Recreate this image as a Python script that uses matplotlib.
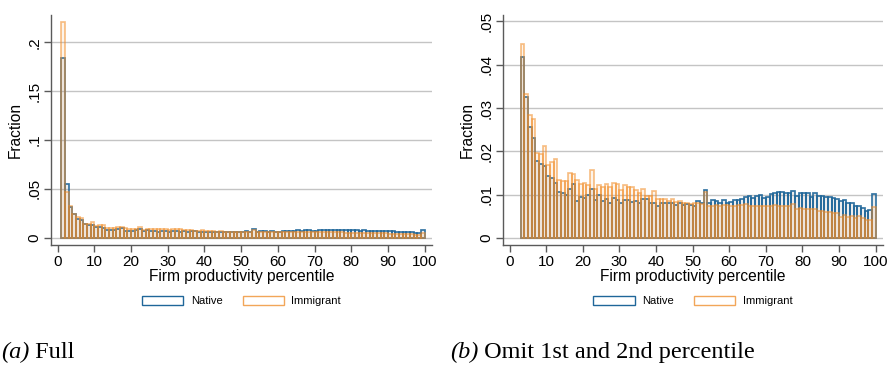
import numpy as np
import matplotlib
matplotlib.use("Agg")
import matplotlib.pyplot as plt
from matplotlib.patches import Patch

plt.rcParams["font.family"] = ["Liberation Sans", "DejaVu Sans"]

# Share of workers in each firm-productivity percentile bin (bin width 1, left edge given by *_start)
full_start = 1
native_full = [
    0.1844, 0.0547,
    0.0317, 0.0247, 0.0195, 0.0177, 0.0135, 0.0131, 0.0127, 0.0110, 0.0106, 0.0097,
    0.0081, 0.0079, 0.0075, 0.0086, 0.0094, 0.0065, 0.0072, 0.0070, 0.0075, 0.0086,
    0.0067, 0.0076, 0.0065, 0.0068, 0.0062, 0.0070, 0.0066, 0.0061, 0.0067, 0.0067,
    0.0063, 0.0065, 0.0062, 0.0068, 0.0068, 0.0061, 0.0061, 0.0056, 0.0061, 0.0062,
    0.0061, 0.0062, 0.0059, 0.0061, 0.0058, 0.0059, 0.0059, 0.0056, 0.0065, 0.0062,
    0.0084, 0.0062, 0.0067, 0.0065, 0.0062, 0.0067, 0.0062, 0.0063, 0.0066, 0.0066,
    0.0069, 0.0072, 0.0074, 0.0071, 0.0075, 0.0076, 0.0070, 0.0072, 0.0077, 0.0079,
    0.0081, 0.0081, 0.0078, 0.0080, 0.0082, 0.0075, 0.0079, 0.0078, 0.0078, 0.0072,
    0.0080, 0.0073, 0.0073, 0.0072, 0.0072, 0.0070, 0.0069, 0.0065, 0.0066, 0.0062,
    0.0062, 0.0057, 0.0057, 0.0053, 0.0048, 0.0049, 0.0077,
]
immigrant_full = [
    0.2207, 0.0465,
    0.0328, 0.0243, 0.0207, 0.0202, 0.0144, 0.0143, 0.0156, 0.0123, 0.0128, 0.0133,
    0.0099, 0.0096, 0.0096, 0.0110, 0.0108, 0.0097, 0.0092, 0.0093, 0.0089, 0.0114,
    0.0083, 0.0089, 0.0087, 0.0092, 0.0086, 0.0093, 0.0091, 0.0082, 0.0089, 0.0087,
    0.0086, 0.0082, 0.0075, 0.0083, 0.0071, 0.0071, 0.0080, 0.0066, 0.0066, 0.0066,
    0.0062, 0.0066, 0.0061, 0.0062, 0.0059, 0.0059, 0.0058, 0.0059, 0.0059, 0.0057,
    0.0078, 0.0055, 0.0055, 0.0056, 0.0054, 0.0056, 0.0056, 0.0055, 0.0055, 0.0056,
    0.0056, 0.0058, 0.0054, 0.0054, 0.0055, 0.0055, 0.0054, 0.0055, 0.0054, 0.0056,
    0.0054, 0.0054, 0.0055, 0.0054, 0.0058, 0.0049, 0.0051, 0.0049, 0.0049, 0.0049,
    0.0049, 0.0045, 0.0045, 0.0045, 0.0045, 0.0043, 0.0043, 0.0035, 0.0039, 0.0035,
    0.0037, 0.0034, 0.0037, 0.0034, 0.0031, 0.0031, 0.0052,
]

omit_start = 3
native_omit = [
    0.0417, 0.0325, 0.0256, 0.0232, 0.0178, 0.0172, 0.0167, 0.0144, 0.0139, 0.0128,
    0.0107, 0.0104, 0.0099, 0.0113, 0.0124, 0.0085, 0.0095, 0.0092, 0.0099, 0.0113,
    0.0088, 0.0100, 0.0086, 0.0090, 0.0082, 0.0092, 0.0087, 0.0080, 0.0088, 0.0088,
    0.0083, 0.0085, 0.0082, 0.0090, 0.0090, 0.0080, 0.0080, 0.0074, 0.0080, 0.0082,
    0.0080, 0.0082, 0.0077, 0.0080, 0.0076, 0.0078, 0.0077, 0.0073, 0.0085, 0.0082,
    0.0111, 0.0081, 0.0088, 0.0085, 0.0082, 0.0088, 0.0081, 0.0083, 0.0087, 0.0087,
    0.0091, 0.0095, 0.0097, 0.0093, 0.0098, 0.0100, 0.0092, 0.0095, 0.0101, 0.0104,
    0.0106, 0.0106, 0.0103, 0.0105, 0.0108, 0.0098, 0.0104, 0.0103, 0.0103, 0.0095,
    0.0105, 0.0096, 0.0096, 0.0094, 0.0094, 0.0092, 0.0091, 0.0085, 0.0087, 0.0081,
    0.0082, 0.0075, 0.0075, 0.0069, 0.0063, 0.0065, 0.0101,
]
immigrant_omit = [
    0.0447, 0.0332, 0.0283, 0.0275, 0.0196, 0.0195, 0.0213, 0.0168, 0.0175, 0.0182,
    0.0135, 0.0131, 0.0131, 0.0150, 0.0148, 0.0133, 0.0125, 0.0127, 0.0122, 0.0156,
    0.0113, 0.0122, 0.0119, 0.0125, 0.0117, 0.0127, 0.0124, 0.0112, 0.0122, 0.0119,
    0.0118, 0.0112, 0.0103, 0.0113, 0.0097, 0.0097, 0.0109, 0.0090, 0.0090, 0.0090,
    0.0085, 0.0090, 0.0083, 0.0085, 0.0080, 0.0081, 0.0079, 0.0081, 0.0081, 0.0078,
    0.0107, 0.0075, 0.0075, 0.0077, 0.0073, 0.0076, 0.0076, 0.0075, 0.0075, 0.0076,
    0.0076, 0.0079, 0.0073, 0.0073, 0.0075, 0.0075, 0.0073, 0.0075, 0.0073, 0.0076,
    0.0074, 0.0073, 0.0075, 0.0073, 0.0079, 0.0067, 0.0069, 0.0067, 0.0067, 0.0067,
    0.0067, 0.0062, 0.0062, 0.0061, 0.0061, 0.0059, 0.0058, 0.0048, 0.0053, 0.0048,
    0.0050, 0.0046, 0.0050, 0.0046, 0.0042, 0.0042, 0.0071,
]

xticks = list(range(0, 101, 10))
full_yticks = [0, 0.05, 0.10, 0.15, 0.20]
full_ylabels = ["0", ".05", ".1", ".15", ".2"]
omit_yticks = [0, 0.01, 0.02, 0.03, 0.04, 0.05]
omit_ylabels = ["0", ".01", ".02", ".03", ".04", ".05"]
series_names = ["Native", "Immigrant"]
captions = [("(a)", " Full"), ("(b)", " Omit 1st and 2nd percentile")]

NATIVE_EDGE = (0.12, 0.40, 0.60, 0.90)
NATIVE_FACE = (0.45, 0.45, 0.45, 0.12)
IMMIGRANT_EDGE = (0.95, 0.55, 0.15, 0.55)
IMMIGRANT_FACE = (0.95, 0.60, 0.25, 0.10)
GRID = "#c4c4c4"
AXIS = "#5a5a5a"

fig = plt.figure(figsize=(8.89, 3.67), dpi=100)
W, H = 889, 367


def px_axes(x0, x1, y0, y1):
    return fig.add_axes([x0 / W, 1 - y1 / H, (x1 - x0) / W, (y1 - y0) / H])


def draw_panel(ax, start, native, immigrant, yticks, ylabels, ylim):
    edges_n = np.arange(start, start + len(native))
    edges_i = np.arange(start, start + len(immigrant))
    ax.bar(edges_n, native, width=1.0, align="edge", facecolor=NATIVE_FACE,
           edgecolor=NATIVE_EDGE, linewidth=1.25, zorder=3)
    ax.bar(edges_i, immigrant, width=1.0, align="edge", facecolor=IMMIGRANT_FACE,
           edgecolor=IMMIGRANT_EDGE, linewidth=1.25, zorder=4)
    ax.set_xlim(-1.8, 102)
    ax.set_ylim(*ylim)
    ax.set_xticks(xticks)
    ax.set_yticks(yticks)
    ax.set_yticklabels(ylabels, rotation=90, va="center")
    ax.tick_params(axis="both", labelsize=11, color=AXIS, length=5, width=1,
                   direction="out", pad=2)
    ax.grid(axis="y", color=GRID, linewidth=1.0, zorder=0)
    ax.set_axisbelow(True)
    for side in ("top", "right"):
        ax.spines[side].set_visible(False)
    for side in ("left", "bottom"):
        ax.spines[side].set_color(AXIS)
        ax.spines[side].set_linewidth(1.0)
    ax.set_xlabel("Firm productivity percentile", fontsize=11.2, labelpad=0)
    ax.set_ylabel("Fraction", fontsize=11.2, labelpad=3)
    handles = [Patch(facecolor="white", edgecolor=NATIVE_EDGE[:3], linewidth=1.0),
               Patch(facecolor="white", edgecolor=(0.95, 0.65, 0.35), linewidth=1.0)]
    ax.legend(handles, series_names, loc="center", bbox_to_anchor=(0.5, -0.243),
              ncol=2, frameon=False, fontsize=8, handlelength=3.7,
              handleheight=0.9, columnspacing=1.8, handletextpad=0.7)


ax1 = px_axes(51, 432, 15, 245)
draw_panel(ax1, full_start, native_full, immigrant_full,
           full_yticks, full_ylabels, (-0.0075, 0.228))

ax2 = px_axes(503, 883, 15, 245)
draw_panel(ax2, omit_start, native_omit, immigrant_omit,
           omit_yticks, omit_ylabels, (-0.0016, 0.0515))

for xpx, (tag, text) in zip((1, 450), captions):
    t = fig.text(xpx / W, 1 - 352 / H, tag, fontsize=17.5, style="italic",
                 family=["Liberation Serif", "DejaVu Serif"], va="center", ha="left")
    fig.canvas.draw()
    ax1.annotate(text, xy=(1, 0), xycoords=t, va="bottom", ha="left",
                 fontsize=17.5, family=["Liberation Serif", "DejaVu Serif"],
                 annotation_clip=False)

fig.savefig("out.png", dpi=100)
